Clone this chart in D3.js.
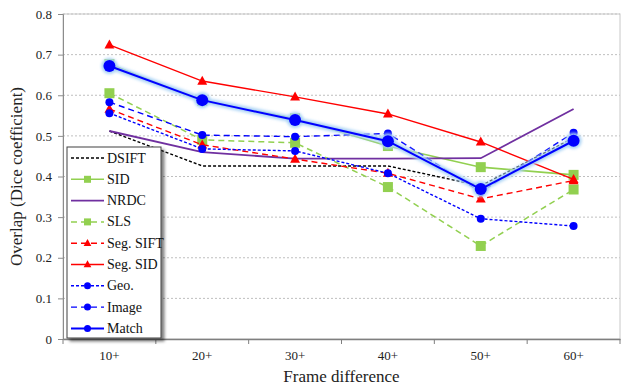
<!DOCTYPE html>
<html><head><meta charset="utf-8">
<script src="https://cdn.jsdelivr.net/npm/d3@7"></script>
</head><body style="margin:0">
<svg id="c" width="627" height="388"></svg>
<script>
const categories = ["10+","20+","30+","40+","50+","60+"];
const yTicks = [0,0.1,0.2,0.3,0.4,0.5,0.6,0.7,0.8];
const seriesNames = ["DSIFT","SID","NRDC","SLS","Seg. SIFT","Seg. SID","Geo.","Image","Match"];
const dsift   = [0.512,0.426,0.426,0.426,0.377,0.495];
const sid     = [0.677,0.586,0.543,0.475,0.423,0.404];
const nrdc    = [0.512,0.460,0.444,0.444,0.445,0.566];
const sls     = [0.605,0.490,0.483,0.374,0.229,0.368];
const segSift = [0.566,0.478,0.443,0.408,0.345,0.390];
const segSid  = [0.724,0.635,0.596,0.554,0.485,0.393];
const geo     = [0.556,0.468,0.463,0.408,0.296,0.278];
const image   = [0.583,0.502,0.498,0.506,0.362,0.508];
const match   = [0.672,0.588,0.539,0.487,0.369,0.488];

const styles = {
  "DSIFT":    {data:dsift,  color:"#000", dash:"3,2", w:1.4, marker:null},
  "SID":      {data:sid,    color:"#92D050", dash:null, w:1.6, marker:"square", ms:10},
  "NRDC":     {data:nrdc,   color:"#7030A0", dash:null, w:1.8, marker:null},
  "SLS":      {data:sls,    color:"#92D050", dash:"6,4", w:1.5, marker:"square", ms:10},
  "Seg. SIFT":{data:segSift,color:"#FF0000", dash:"6,4", w:1.4, marker:"triangle", ms:9},
  "Seg. SID": {data:segSid, color:"#FF0000", dash:null, w:1.4, marker:"triangle", ms:9},
  "Geo.":     {data:geo,    color:"#0000FF", dash:"3,2", w:1.4, marker:"circle", ms:4},
  "Image":    {data:image,  color:"#0000FF", dash:"6,4", w:1.4, marker:"circle", ms:4},
  "Match":    {data:match,  color:"#0000FF", dash:null, w:2, marker:"circle", ms:6, glow:true}
};

const svg = d3.select("#c");
const L=63, R=620, T=14, B=339;
const x = d3.scaleBand().domain(categories).range([L,R]);
const y = d3.scaleLinear().domain([0,0.8]).range([B,T]);
const FONT = "Liberation Serif";

const defs = svg.append("defs");
const f = defs.append("filter").attr("id","glow").attr("x","-10%").attr("y","-20%").attr("width","120%").attr("height","140%");
f.append("feGaussianBlur").attr("stdDeviation",1.8);
const sh = defs.append("filter").attr("id","shadow").attr("x","-10%").attr("y","-10%").attr("width","130%").attr("height","120%");
sh.append("feGaussianBlur").attr("in","SourceAlpha").attr("stdDeviation",1.5).attr("result","b");
sh.append("feOffset").attr("in","b").attr("dx",3).attr("dy",3).attr("result","o");
sh.append("feComponentTransfer").attr("in","o").attr("result","o2").append("feFuncA").attr("type","linear").attr("slope",0.5);
const m = sh.append("feMerge"); m.append("feMergeNode").attr("in","o2"); m.append("feMergeNode").attr("in","SourceGraphic");

svg.append("g").selectAll("line").data(yTicks.slice(1)).join("line")
  .attr("x1",L).attr("x2",R).attr("y1",d=>y(d)).attr("y2",d=>y(d))
  .attr("stroke","#bfbfbf").attr("stroke-dasharray","2,2").attr("stroke-width",1);
svg.append("rect").attr("x",L).attr("y",T).attr("width",R-L).attr("height",B-T)
  .attr("fill","none").attr("stroke","#c8c8c8");

const ya = svg.append("g").attr("transform",`translate(${L},0)`)
  .call(d3.axisLeft(y).tickValues(yTicks).tickSize(5).tickPadding(6).tickFormat(d=>d===0?"0":d3.format(".1f")(d)));
ya.attr("font-family",null).attr("font-size",null);
ya.select(".domain").attr("stroke","#8c8c8c");
ya.selectAll(".tick line").attr("stroke","#8c8c8c");
ya.selectAll("text").attr("fill","#222").style("font-family",FONT).style("font-size","13px");

const xa = svg.append("g").attr("transform",`translate(0,${B})`)
  .call(d3.axisBottom(x).tickSize(0).tickPadding(12));
xa.attr("font-family",null).attr("font-size",null);
xa.select(".domain").attr("stroke","#7f7f7f").attr("stroke-width",1.5);
xa.selectAll("text").attr("fill","#222").style("font-family",FONT).style("font-size","13px");
const bounds = categories.map(c=>x(c)).concat([R]);
svg.append("g").selectAll("line").data(bounds).join("line")
  .attr("x1",d=>d).attr("x2",d=>d).attr("y1",B).attr("y2",B+5).attr("stroke","#7f7f7f");

svg.append("text").attr("x",(L+R)/2).attr("y",382).attr("text-anchor","middle").style("font-family",FONT)
  .style("font-size","17px").attr("fill","#222").text("Frame difference");
svg.append("text").attr("transform",`translate(22,${(T+B)/2}) rotate(-90)`).attr("text-anchor","middle").style("font-family",FONT)
  .style("font-size","17px").attr("fill","#222").text("Overlap (Dice coefficient)");

const cx = c => x(c)+x.bandwidth()/2;
const line = d3.line().x((d,i)=>cx(categories[i])).y(d=>y(d));

function drawMarker(g, type, ms, color, px, py){
  if(type==="square") g.append("rect").attr("x",px-ms/2).attr("y",py-ms/2).attr("width",ms).attr("height",ms).attr("fill",color);
  else if(type==="triangle") g.append("path").attr("d",`M${px},${py-ms*0.6}L${px+ms*0.55},${py+ms*0.4}L${px-ms*0.55},${py+ms*0.4}Z`).attr("fill",color);
  else if(type==="circle") g.append("circle").attr("cx",px).attr("cy",py).attr("r",ms).attr("fill",color);
}

const plot = svg.append("g");
seriesNames.forEach(name=>{
  const s = styles[name];
  const g = plot.append("g");
  if(s.glow){
    g.append("path").attr("d",line(s.data)).attr("fill","none").attr("stroke","#a9d2f5").attr("stroke-width",6).attr("stroke-linejoin","round").attr("filter","url(#glow)");
    s.data.forEach((v,i)=>g.append("circle").attr("cx",cx(categories[i])).attr("cy",y(v)).attr("r",s.ms+2).attr("fill","#a9d2f5").attr("filter","url(#glow)"));
  }
  g.append("path").attr("d",line(s.data)).attr("fill","none").attr("stroke",s.color)
    .attr("stroke-width",s.w).attr("stroke-dasharray",s.dash);
  if(s.marker) s.data.forEach((v,i)=>drawMarker(g,s.marker,s.ms,s.color,cx(categories[i]),y(v)));
});

const lg = svg.append("g");
const lx=67, ly=147, lw=94, lh=191;
lg.append("rect").attr("x",lx).attr("y",ly).attr("width",lw).attr("height",lh).attr("fill","#fff")
  .attr("stroke","#404040").attr("stroke-width",1).attr("filter","url(#shadow)");
seriesNames.forEach((name,i)=>{
  const s = styles[name];
  const yy = ly+11+i*21.3;
  lg.append("line").attr("x1",lx+4).attr("x2",lx+37).attr("y1",yy).attr("y2",yy)
    .attr("stroke",s.color).attr("stroke-width",s.w).attr("stroke-dasharray",s.dash);
  if(s.marker){
    const ms = s.marker==="circle" ? 3.5 : 7;
    drawMarker(lg,s.marker,ms,s.color,lx+20.5,yy);
  }
  lg.append("text").attr("x",lx+40).attr("y",yy+4.5).style("font-family",FONT).style("font-size","14px").attr("fill","#111").text(name);
});
</script></body></html>
